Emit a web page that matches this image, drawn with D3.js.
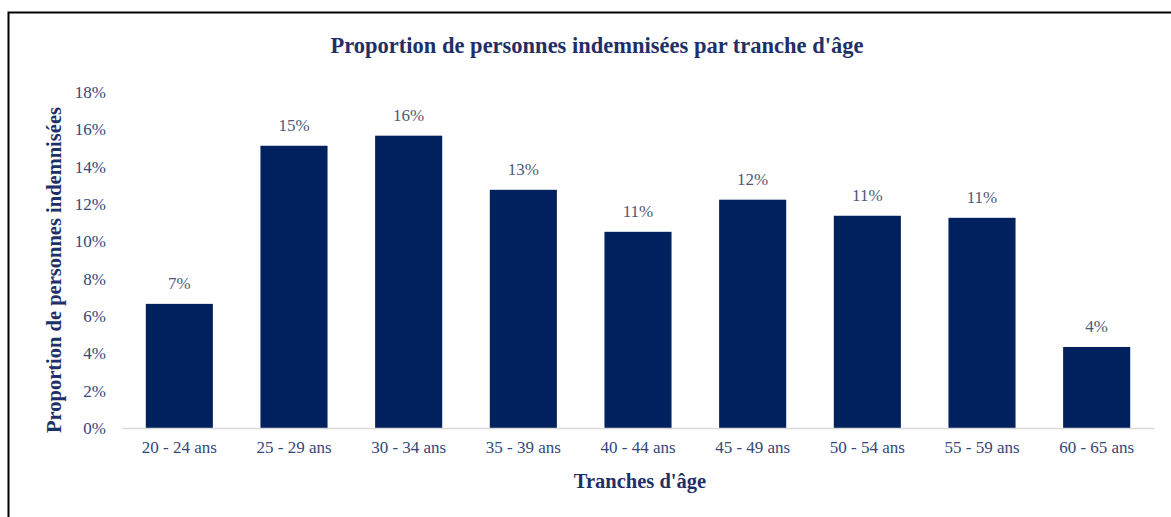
<!DOCTYPE html>
<html>
<head>
<meta charset="utf-8">
<script src="https://cdn.jsdelivr.net/npm/d3@7"></script>
<style>
  body { margin: 0; background: #fff; }
  text { font-family: "Liberation Serif", "DejaVu Serif", serif; }
</style>
</head>
<body>
<div id="chart"></div>
<script>
const categories = ["20 - 24 ans", "25 - 29 ans", "30 - 34 ans", "35 - 39 ans", "40 - 44 ans",
  "45 - 49 ans", "50 - 54 ans", "55 - 59 ans", "60 - 65 ans"];
const values = [6.65, 15.12, 15.66, 12.76, 10.51, 12.23, 11.37, 11.26, 4.34];
const yTicks = [0, 2, 4, 6, 8, 10, 12, 14, 16, 18];

const W = 1171, H = 517;
const margin = { top: 92, right: 17, bottom: 89, left: 122 };
const width = W - margin.left - margin.right;
const height = H - margin.top - margin.bottom;

const svg = d3.select("#chart").append("svg")
  .attr("width", W)
  .attr("height", H);

// frame (only top and left visible in the picture)
svg.append("rect")
  .attr("x", 8.5).attr("y", 12.5)
  .attr("width", W + 20).attr("height", H + 20)
  .attr("fill", "none")
  .attr("stroke", "#000")
  .attr("stroke-width", 2);

svg.append("text")
  .attr("x", 597)
  .attr("y", 53)
  .attr("text-anchor", "middle")
  .style("font-size", "22.5px")
  .style("font-weight", "bold")
  .style("fill", "#1F3068")
  .text("Proportion de personnes indemnisées par tranche d'âge");

const g = svg.append("g")
  .attr("transform", `translate(${margin.left},${margin.top})`);

const x = d3.scaleBand().domain(categories).range([0, width])
  .paddingInner(0.415).paddingOuter(0.2075);
const y = d3.scaleLinear().domain([0, 18]).range([height, 0]);

// y axis labels
const yAxis = g.append("g")
  .call(d3.axisLeft(y).tickValues(yTicks).tickFormat(d => d + "%").tickSize(0).tickPadding(16));
yAxis.select(".domain").remove();
yAxis.selectAll("text")
  .style("font-family", "Liberation Serif, serif")
  .style("font-size", "17px")
  .style("fill", "#34477A");

// bars
g.selectAll("rect.bar")
  .data(values)
  .enter().append("rect")
  .attr("class", "bar")
  .attr("x", (d, i) => x(categories[i]))
  .attr("y", d => y(d))
  .attr("width", x.bandwidth())
  .attr("height", d => height - y(d))
  .attr("fill", "#00205E");

// data labels
g.selectAll("text.lbl")
  .data(values)
  .enter().append("text")
  .attr("class", "lbl")
  .attr("x", (d, i) => x(categories[i]) + x.bandwidth() / 2)
  .attr("y", d => y(d) - 15)
  .attr("text-anchor", "middle")
  .style("font-size", "17px")
  .style("fill", "#4E5878")
  .text(d => Math.round(d) + "%");

// x axis
const xAxis = g.append("g")
  .attr("transform", `translate(0,${height})`)
  .call(d3.axisBottom(x).tickSize(0).tickPadding(13));
xAxis.select(".domain").attr("stroke", "#D9D9D9").attr("stroke-width", 1.5);
xAxis.selectAll("text")
  .style("font-family", "Liberation Serif, serif")
  .style("font-size", "17px")
  .style("fill", "#34477A");

svg.append("text")
  .attr("x", 640)
  .attr("y", 488)
  .attr("text-anchor", "middle")
  .style("font-size", "20.5px")
  .style("font-weight", "bold")
  .style("fill", "#1F3068")
  .text("Tranches d'âge");

svg.append("text")
  .attr("transform", "translate(61,270) rotate(-90)")
  .attr("text-anchor", "middle")
  .style("font-size", "20.5px")
  .style("font-weight", "bold")
  .style("fill", "#1F3068")
  .text("Proportion de personnes indemnisées");
</script>
</body>
</html>
